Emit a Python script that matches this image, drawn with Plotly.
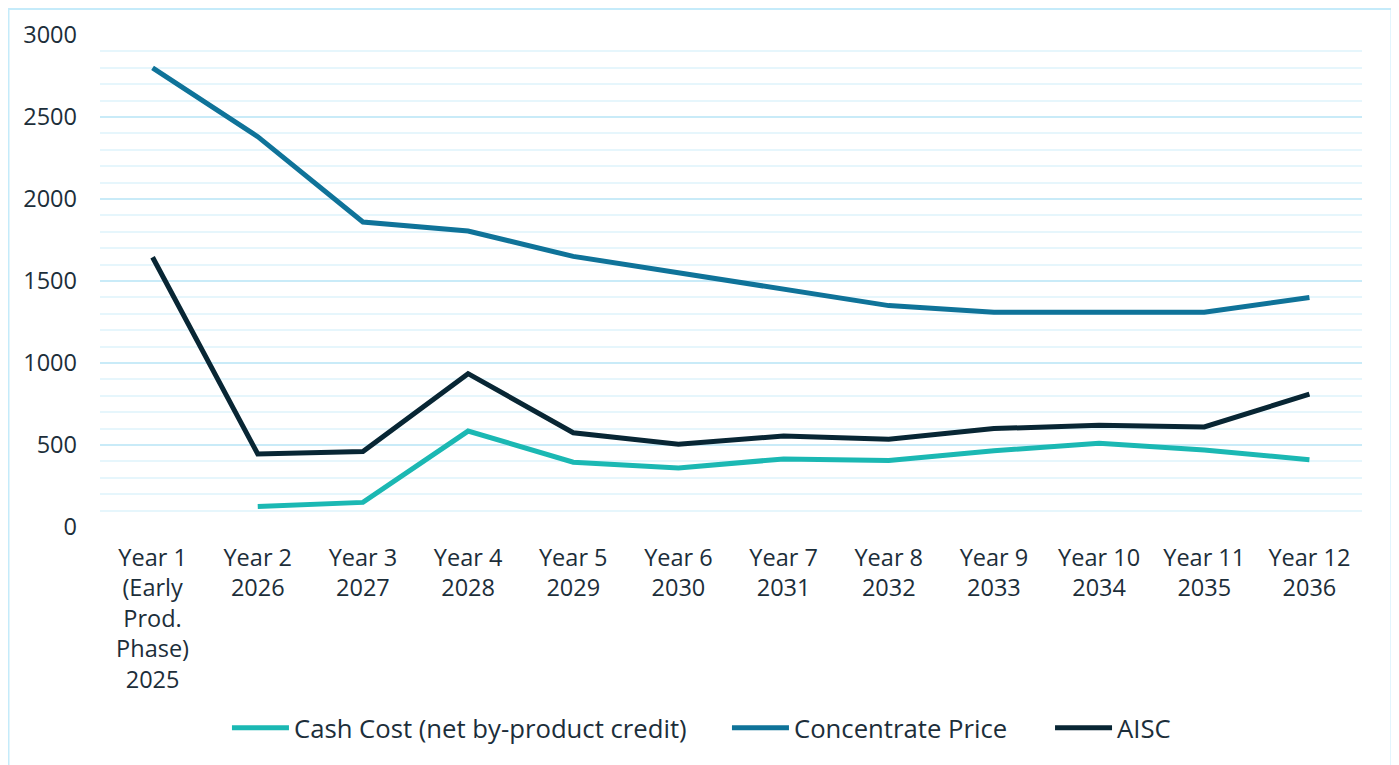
import plotly.graph_objects as go

categories = [
    "Year 1<br>(Early<br>Prod.<br>Phase)<br>2025",
    "Year 2<br>2026", "Year 3<br>2027", "Year 4<br>2028", "Year 5<br>2029",
    "Year 6<br>2030", "Year 7<br>2031", "Year 8<br>2032", "Year 9<br>2033",
    "Year 10<br>2034", "Year 11<br>2035", "Year 12<br>2036",
]
cash_cost = [None, 125, 150, 585, 395, 360, 415, 405, 465, 510, 470, 410]
concentrate_price = [2800, 2380, 1860, 1805, 1650, 1550, 1455, 1350, 1310, 1310, 1310, 1400]
aisc = [1645, 445, 460, 935, 575, 505, 555, 535, 600, 620, 610, 810]

series_names = ["Cash Cost (net by-product credit)", "Concentrate Price", "AISC"]
series_colors = ["#1bb8b3", "#0f7399", "#082634"]

y_ticks = [0, 500, 1000, 1500, 2000, 2500, 3000]

FONT = "Open Sans"
TEXT = "#1c2e3a"

legend_ids = ["legend", "legend2", "legend3"]
legend_x = [0.1006, 0.4968, 0.7528]

fig = go.Figure()
for name, vals, col, lg in zip(series_names, [cash_cost, concentrate_price, aisc], series_colors, legend_ids):
    fig.add_trace(go.Scatter(
        x=categories, y=vals, name=name, mode="lines",
        line=dict(color=col, width=5), connectgaps=False, legend=lg,
    ))

legend_common = dict(orientation="h", xanchor="left", y=-0.4085, yanchor="middle",
                     font=dict(family=FONT, size=25.7, color=TEXT), itemwidth=57,
                     bgcolor="rgba(0,0,0,0)")

fig.update_layout(
    width=1391, height=757,
    margin=dict(l=92, r=37, t=27, b=238, autoexpand=False),
    paper_bgcolor="white", plot_bgcolor="white",
    font=dict(family=FONT, size=23.5, color=TEXT),
    showlegend=True,
    legend=dict(x=legend_x[0], **legend_common),
    legend2=dict(x=legend_x[1], **legend_common),
    legend3=dict(x=legend_x[2], **legend_common),
    xaxis=dict(
        type="category", showgrid=False, zeroline=False, showline=False,
        ticks="", tickfont=dict(family=FONT, size=23.5, color=TEXT),
        ticklabelstandoff=14, range=[-0.5, 11.5], automargin=False,
    ),
    yaxis=dict(
        range=[0, 3000], tickvals=y_ticks, ticktext=[str(v) for v in y_ticks],
        showgrid=True, gridcolor="#c9ebf8", gridwidth=2,
        zeroline=False, showline=False, ticks="",
        tickfont=dict(family=FONT, size=23.5, color=TEXT),
        ticklabelstandoff=22, automargin=False,
        minor=dict(dtick=100, showgrid=True, gridcolor="#e6f6fc", gridwidth=2),
    ),
    shapes=[
        dict(type="path", xref="paper", yref="paper",
             path="M -0.0725,-0.6 L -0.0725,1.0528 L 1.0234,1.0528 L 1.0234,-0.6",
             line=dict(color="#c5ebfa", width=2), layer="below"),
    ],
)

fig.write_html("out.html")
